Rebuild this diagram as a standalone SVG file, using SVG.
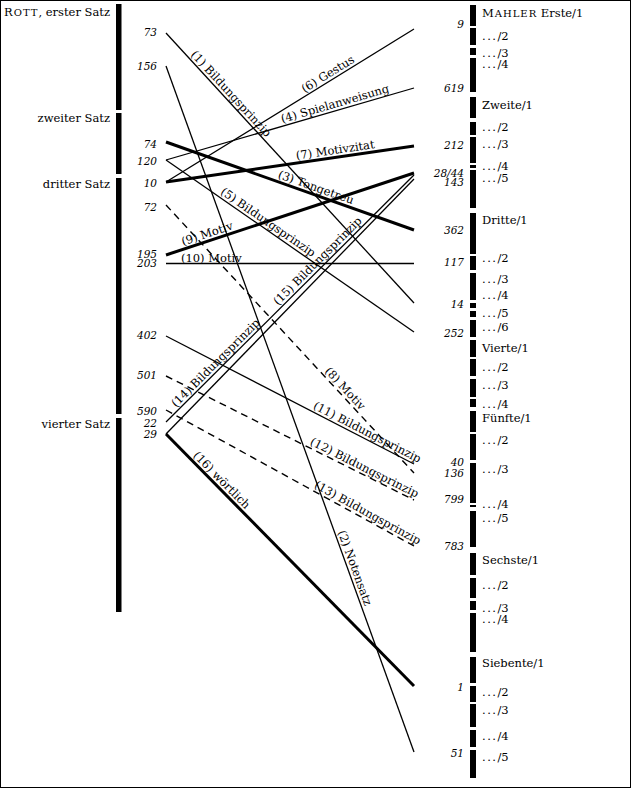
<svg xmlns="http://www.w3.org/2000/svg" width="631" height="788" viewBox="0 0 631 788">
<style>
text{font-family:"DejaVu Serif","Liberation Serif",serif;fill:#000}
.lab{font-size:11.5px}
.num{font-size:10.5px;font-style:italic}
.sc{font-size:10px;letter-spacing:1px}
.dots{letter-spacing:1.5px}
.bar{fill:#000}
.ln{stroke:#000;stroke-width:1.3;fill:none}
.tk{stroke:#000;stroke-width:3;fill:none}
.ds{stroke:#000;stroke-width:1.4;fill:none;stroke-dasharray:7 5}
.cl{font-size:11.5px}
</style>
<rect x="0.5" y="0.5" width="630" height="787" fill="#fff" stroke="#000" stroke-width="1"/>

<g id="rott">
  <g id="rott-1"><rect class="bar" x="116" y="4" width="5.5" height="106"/><text class="lab" x="110" y="16" text-anchor="end"><tspan style="letter-spacing:1px">R</tspan><tspan class="sc">OTT</tspan>, erster Satz</text></g>
  <g id="rott-2"><rect class="bar" x="116" y="113" width="5.5" height="61"/><text class="lab" x="110" y="122" text-anchor="end">zweiter Satz</text></g>
  <g id="rott-3"><rect class="bar" x="116" y="178" width="5.5" height="236"/><text class="lab" x="110" y="188" text-anchor="end">dritter Satz</text></g>
  <g id="rott-4"><rect class="bar" x="116" y="418" width="5.5" height="194"/><text class="lab" x="110" y="428" text-anchor="end">vierter Satz</text></g>
</g>

<g id="rott-numbers" class="num" text-anchor="end">
  <text x="157" y="36">73</text>
  <text x="157" y="70">156</text>
  <text x="157" y="148">74</text>
  <text x="157" y="165">120</text>
  <text x="157" y="187">10</text>
  <text x="157" y="211">72</text>
  <text x="157" y="258">195</text>
  <text x="157" y="267">203</text>
  <text x="157" y="339">402</text>
  <text x="157" y="379">501</text>
  <text x="157" y="415">590</text>
  <text x="157" y="427">22</text>
  <text x="157" y="438">29</text>
</g>

<g id="mahler">
  <g id="m1" class="bar">
    <rect x="470" y="5" width="6" height="21"/><rect x="470" y="28" width="6" height="17"/><rect x="470" y="48" width="6" height="7"/><rect x="470" y="58" width="6" height="34"/>
  </g>
  <g id="m1-labels" class="lab">
    <text x="482" y="17"><tspan style="letter-spacing:1px">M</tspan><tspan class="sc">AHLER</tspan> Erste/1</text>
    <text x="482" y="40"><tspan class="dots">...</tspan>/2</text>
    <text x="482" y="57"><tspan class="dots">...</tspan>/3</text>
    <text x="482" y="68"><tspan class="dots">...</tspan>/4</text>
  </g>
  <g id="m2" class="bar">
    <rect x="470" y="97" width="6" height="21"/><rect x="470" y="122" width="6" height="13"/><rect x="470" y="137" width="6" height="26"/><rect x="470" y="165" width="6" height="3"/><rect x="470" y="170" width="6" height="38"/>
  </g>
  <g id="m2-labels" class="lab">
    <text x="482" y="109">Zweite/1</text>
    <text x="482" y="131"><tspan class="dots">...</tspan>/2</text>
    <text x="482" y="148"><tspan class="dots">...</tspan>/3</text>
    <text x="482" y="170"><tspan class="dots">...</tspan>/4</text>
    <text x="482" y="182"><tspan class="dots">...</tspan>/5</text>
  </g>
  <g id="m3" class="bar">
    <rect x="470" y="213" width="6" height="41"/><rect x="470" y="256" width="6" height="14"/><rect x="470" y="273" width="6" height="27"/><rect x="470" y="303" width="6" height="5"/><rect x="470" y="311" width="6" height="6"/><rect x="470" y="320" width="6" height="17"/>
  </g>
  <g id="m3-labels" class="lab">
    <text x="482" y="224">Dritte/1</text>
    <text x="482" y="262"><tspan class="dots">...</tspan>/2</text>
    <text x="482" y="283"><tspan class="dots">...</tspan>/3</text>
    <text x="482" y="299"><tspan class="dots">...</tspan>/4</text>
    <text x="482" y="317"><tspan class="dots">...</tspan>/5</text>
    <text x="482" y="331"><tspan class="dots">...</tspan>/6</text>
  </g>
  <g id="m4" class="bar">
    <rect x="470" y="340" width="6" height="17"/><rect x="470" y="359" width="6" height="17"/><rect x="470" y="379" width="6" height="18"/><rect x="470" y="399" width="6" height="8"/>
  </g>
  <g id="m4-labels" class="lab">
    <text x="482" y="352">Vierte/1</text>
    <text x="482" y="371"><tspan class="dots">...</tspan>/2</text>
    <text x="482" y="389"><tspan class="dots">...</tspan>/3</text>
    <text x="482" y="408"><tspan class="dots">...</tspan>/4</text>
  </g>
  <g id="m5" class="bar">
    <rect x="470" y="411" width="6" height="21"/><rect x="470" y="434" width="6" height="26"/><rect x="470" y="463" width="6" height="40"/><rect x="470" y="505" width="6" height="2"/><rect x="470" y="511" width="6" height="36"/>
  </g>
  <g id="m5-labels" class="lab">
    <text x="482" y="422">Fünfte/1</text>
    <text x="482" y="444"><tspan class="dots">...</tspan>/2</text>
    <text x="482" y="473"><tspan class="dots">...</tspan>/3</text>
    <text x="482" y="508"><tspan class="dots">...</tspan>/4</text>
    <text x="482" y="522"><tspan class="dots">...</tspan>/5</text>
  </g>
  <g id="m6" class="bar">
    <rect x="470" y="553" width="6" height="22"/><rect x="470" y="578" width="6" height="20"/><rect x="470" y="601" width="6" height="9"/><rect x="470" y="613" width="6" height="39"/>
  </g>
  <g id="m6-labels" class="lab">
    <text x="482" y="564">Sechste/1</text>
    <text x="482" y="589"><tspan class="dots">...</tspan>/2</text>
    <text x="482" y="612"><tspan class="dots">...</tspan>/3</text>
    <text x="482" y="623"><tspan class="dots">...</tspan>/4</text>
  </g>
  <g id="m7" class="bar">
    <rect x="470" y="657" width="6" height="26"/><rect x="470" y="686" width="6" height="16"/><rect x="470" y="704" width="6" height="23"/><rect x="470" y="730" width="6" height="17"/><rect x="470" y="750" width="6" height="28"/>
  </g>
  <g id="m7-labels" class="lab">
    <text x="482" y="667">Siebente/1</text>
    <text x="482" y="696"><tspan class="dots">...</tspan>/2</text>
    <text x="482" y="714"><tspan class="dots">...</tspan>/3</text>
    <text x="482" y="740"><tspan class="dots">...</tspan>/4</text>
    <text x="482" y="761"><tspan class="dots">...</tspan>/5</text>
  </g>
</g>

<g id="mahler-numbers" class="num" text-anchor="end">
  <text x="464" y="28">9</text>
  <text x="464" y="92">619</text>
  <text x="464" y="149">212</text>
  <text x="464" y="177">28/44</text>
  <text x="464" y="186">143</text>
  <text x="464" y="234">362</text>
  <text x="464" y="266">117</text>
  <text x="464" y="308">14</text>
  <text x="464" y="337">252</text>
  <text x="464" y="466">40</text>
  <text x="464" y="477">136</text>
  <text x="464" y="503">799</text>
  <text x="464" y="550">783</text>
  <text x="464" y="691">1</text>
  <text x="464" y="757">51</text>
</g>

<g id="connectors">
  <line class="ln" x1="166" y1="33" x2="414" y2="303"/>
  <line class="ln" x1="166" y1="66" x2="414" y2="752"/>
  <line class="tk" x1="166" y1="142" x2="414" y2="230"/>
  <line class="ln" x1="166" y1="160" x2="414" y2="88"/>
  <line class="ln" x1="166" y1="160" x2="414" y2="332"/>
  <line class="ln" x1="166" y1="182" x2="414" y2="29"/>
  <line class="tk" x1="166" y1="182" x2="414" y2="146"/>
  <line class="ds" x1="166" y1="205" x2="414" y2="473"/>
  <line class="tk" x1="166" y1="255" x2="414" y2="173"/>
  <line class="ln" x1="166" y1="263.5" x2="414" y2="263.5" style="stroke-width:1.6"/>
  <line class="ln" x1="166" y1="336" x2="414" y2="464"/>
  <line class="ds" x1="166" y1="376" x2="414" y2="500"/>
  <line class="ds" x1="166" y1="410" x2="414" y2="546"/>
  <line class="ln" x1="166" y1="422" x2="414" y2="175"/>
  <line class="ln" x1="166" y1="434" x2="414" y2="179"/>
  <line class="tk" x1="166" y1="434" x2="414" y2="686"/>

  <g class="cl">
    <text transform="translate(188,57) rotate(47.43)" y="-3">(1) Bildungsprinzip</text>
    <text transform="translate(335,533) rotate(70.1)" y="-3">(2) Notensatz</text>
    <text transform="translate(276,181) rotate(19.54)" y="-3.5">(3) Tongetreu</text>
    <text transform="translate(283,126) rotate(-16.19)" y="-3">(4) Spielanweisung</text>
    <text transform="translate(218,196) rotate(34.59)" y="-3">(5) Bildungsprinzip</text>
    <text transform="translate(306,95.6) rotate(-31.67)" y="-3">(6) Gestus</text>
    <text transform="translate(297,163) rotate(-8.26)" y="-3.5">(7) Motivzitat</text>
    <text transform="translate(322,373.6) rotate(47.22)" y="-3">(8) Motiv</text>
    <text transform="translate(184,249) rotate(-18.09)" y="-3.5">(9) Motiv</text>
    <text x="181" y="261.5">(10) Motiv</text>
    <text transform="translate(311,410.8) rotate(27.3)" y="-3">(11) Bildungsprinzip</text>
    <text transform="translate(308,447) rotate(26.57)" y="-3">(12) Bildungsprinzip</text>
    <text transform="translate(312,490) rotate(28.74)" y="-3">(13) Bildungsprinzip</text>
    <text transform="translate(178,410) rotate(-44.9)" y="-3">(14) Bildungsprinzip</text>
    <text transform="translate(280,308) rotate(-44.9)" y="-3">(15) Bildungsprinzip</text>
    <text transform="translate(190,458.4) rotate(45.46)" y="-3.5">(16) wörtlich</text>
  </g>
</g>
</svg>
